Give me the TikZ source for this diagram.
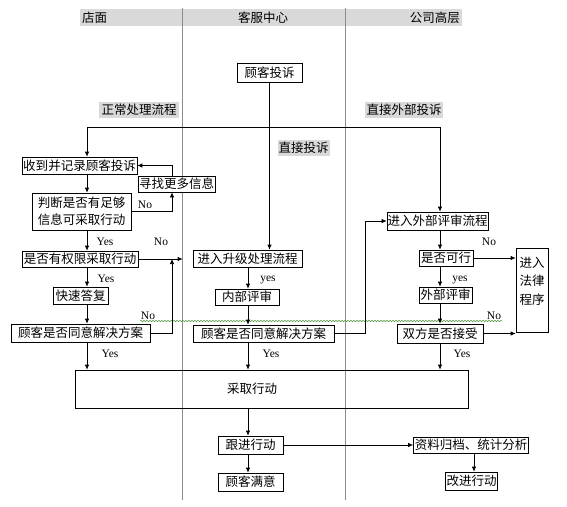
\documentclass[tikz,border=0pt]{standalone}
\usepackage{fontspec}
\setmainfont{Liberation Serif}
\newfontfamily\cjk{Noto Sans CJK SC}
\usetikzlibrary{arrows.meta,decorations.pathmorphing}
\definecolor{squiggle}{RGB}{80,150,60}

\begin{document}
\begin{tikzpicture}
[x=1pt, y=-1pt,
box/.style={rectangle, draw=black, line width=0.7pt, fill=white,
inner sep=0pt, minimum height=17pt, font=\cjk\fontsize{12.5}{14}\selectfont},
hilite/.style={rectangle, fill=black!15, inner sep=0pt,
minimum height=16pt, font=\cjk\fontsize{12.5}{14}\selectfont},
lanehead/.style={inner sep=0pt, font=\cjk\fontsize{12.5}{14}\selectfont},
answer/.style={inner sep=0pt, font=\fontsize{11.5}{13}\selectfont},
flow/.style={-{Latex[length=5pt,width=4.5pt]}, line width=0.7pt},
lane/.style={draw=black!45, line width=0.7pt}]

\useasboundingbox (0,0) rectangle (567,506);

% Draw lanes
\fill[black!15] (80,9) rectangle (462,26);
\node [lanehead, anchor=west] (hshop) at (82,17.5) {店面};
\node [lanehead] (hservice) at (263,17.5) {客服中心};
\node [lanehead, anchor=east] (hboard) at (460,17.5) {公司高层};
\draw [lane] (182,8) -- (182,500);
\draw [lane] (345,8) -- (345,500);

% Draw steps
\node [box, minimum width=65pt, minimum height=19pt] (complaint) at (269.5,72.5) {顾客投诉};
\node [hilite, minimum width=80pt] (normal) at (139,110) {正常处理流程};
\node [hilite, minimum width=78pt] (direct) at (404,110) {直接外部投诉};
\node [hilite, minimum width=52pt] (directc) at (303.5,147.5) {直接投诉};

\node [box, minimum width=115pt] (recv) at (79.5,165.5) {收到并记录顾客投诉};
\node [box, minimum width=77pt, minimum height=16pt] (more) at (176.5,184) {寻找更多信息};
\node [box, minimum width=99pt, minimum height=37pt, align=center,
font=\cjk\fontsize{12.5}{17}\selectfont] (judge) at (81.5,211.5) {判断是否有足够\\信息可采取行动};
\node [box, minimum width=116pt, minimum height=16pt] (perm) at (80,259) {是否有权限采取行动};
\node [box, minimum width=55pt] (quick) at (80.5,295.5) {快速答复};
\node [box, minimum width=139pt, minimum height=18pt] (agreeL) at (80.5,333) {顾客是否同意解决方案};

\node [box, minimum width=109pt] (escal) at (247.5,258.5) {进入升级处理流程};
\node [box, minimum width=64pt, minimum height=16pt] (internal) at (247,297) {内部评审};
\node [box, minimum width=141pt] (agreeC) at (263.5,333.5) {顾客是否同意解决方案};

\node [box, minimum width=101pt, minimum height=18pt] (ext) at (437.5,221) {进入外部评审流程};
\node [box, minimum width=54pt, minimum height=16pt] (feas) at (446,258) {是否可行};
\node [box, minimum width=53pt, minimum height=16pt] (extrev) at (445.5,295) {外部评审};
\node [box, minimum width=86pt, minimum height=19pt] (both) at (440,333.5) {双方是否接受};
\node [box, minimum width=32pt, minimum height=84pt, align=center,
font=\cjk\fontsize{12.5}{18.5}\selectfont] (legal) at (532,290) {进入\\法律\\程序\\\mbox{}};

\node [box, fill=none, minimum width=393pt, minimum height=38pt,
label={[lanehead, xshift=-19.5pt]center:采取行动}] (action) at (271.5,389) {};
\node [box, minimum width=65pt, minimum height=18pt] (follow) at (250.5,445) {跟进行动};
\node [box, minimum width=65pt, minimum height=18pt] (satisfied) at (250.5,482) {顾客满意};
\node [box, minimum width=115pt, minimum height=16pt] (archive) at (471,445) {资料归档、统计分析};
\node [box, minimum width=52pt, minimum height=18pt] (improve) at (471.5,481) {改进行动};

% Draw answers
\node [answer] (nojudge) at (145,205) {No};
\node [answer] (yesjudge) at (105,242) {Yes};
\node [answer] (noperm) at (161,242) {No};
\node [answer] (yesperm) at (106,279) {Yes};
\node [answer] (noagreel) at (148,316) {No};
\node [answer] (yesagreel) at (110,354) {Yes};
\node [answer] (yesescal) at (268,280) {yes};
\node [answer] (yesagreec) at (271,354) {Yes};
\node [answer] (noext) at (489,242) {No};
\node [answer] (yesfeas) at (460,280) {yes};
\node [answer] (noboth) at (494,316) {No};
\node [answer] (yesboth) at (462,354) {Yes};

\draw [squiggle, line width=0.5pt, decorate,
decoration={snake, amplitude=0.7pt, segment length=3pt}] (140,321) -- (502,321);

% Draw flows
\coordinate (colA) at (87,0);
\coordinate (colB) at (248,0);
\coordinate (colC) at (440,0);
\coordinate (colD) at (474,0);
\coordinate (loopA) at (172,0);
\coordinate (loopB) at (365,0);
\coordinate (topline) at (0,127);

\draw [flow] (complaint.south) -- (complaint.south |- escal.north);
\draw [flow] (topline -| colC) -- (topline -| colA) -- (recv.north -| colA);
\draw [flow] (topline -| colC) -- (ext.north -| colC);

\draw [flow] (recv.south -| colA) -- (judge.north -| colA);
\draw [flow] (judge.east) -| (more.south -| loopA);
\draw [flow] (more.north -| loopA) |- (recv.east);
\draw [flow] (judge.south -| colA) -- (perm.north -| colA);
\draw [flow, shorten >=10pt] (perm.east) -- (perm.east -| escal.west);
\draw [flow] (perm.south -| colA) -- (quick.north -| colA);
\draw [flow] (quick.south -| colA) -- (agreeL.north -| colA);
\draw [flow] (agreeL.east) -| (perm.east -| loopA);
\draw [flow] (agreeL.south -| colA) -- (action.north -| colA);

\draw [flow] (escal.south -| colB) -- (internal.north -| colB);
\draw [flow] (internal.south -| colB) -- (agreeC.north -| colB);
\draw [flow] (agreeC.east) -| (ext.west -| loopB) -- (ext.west);
\draw [flow] (agreeC.south -| colB) -- (action.north -| colB);

\draw [flow] (ext.south -| colC) -- (feas.north -| colC);
\draw [flow] (feas.east) -- (feas.east -| legal.west);
\draw [flow] (feas.south -| colC) -- (extrev.north -| colC);
\draw [flow] (extrev.south -| colC) -- (both.north -| colC);
\draw [flow] (both.east) -- (both.east -| legal.west);
\draw [flow] (both.south -| colC) -- (action.north -| colC);

\draw [flow] (action.south -| colB) -- (follow.north -| colB);
\draw [flow] (follow.south -| colB) -- (satisfied.north -| colB);
\draw [flow] (follow.east) -- (archive.west);
\draw [flow] (archive.south -| colD) -- (improve.north -| colD);

\end{tikzpicture}
\end{document}
